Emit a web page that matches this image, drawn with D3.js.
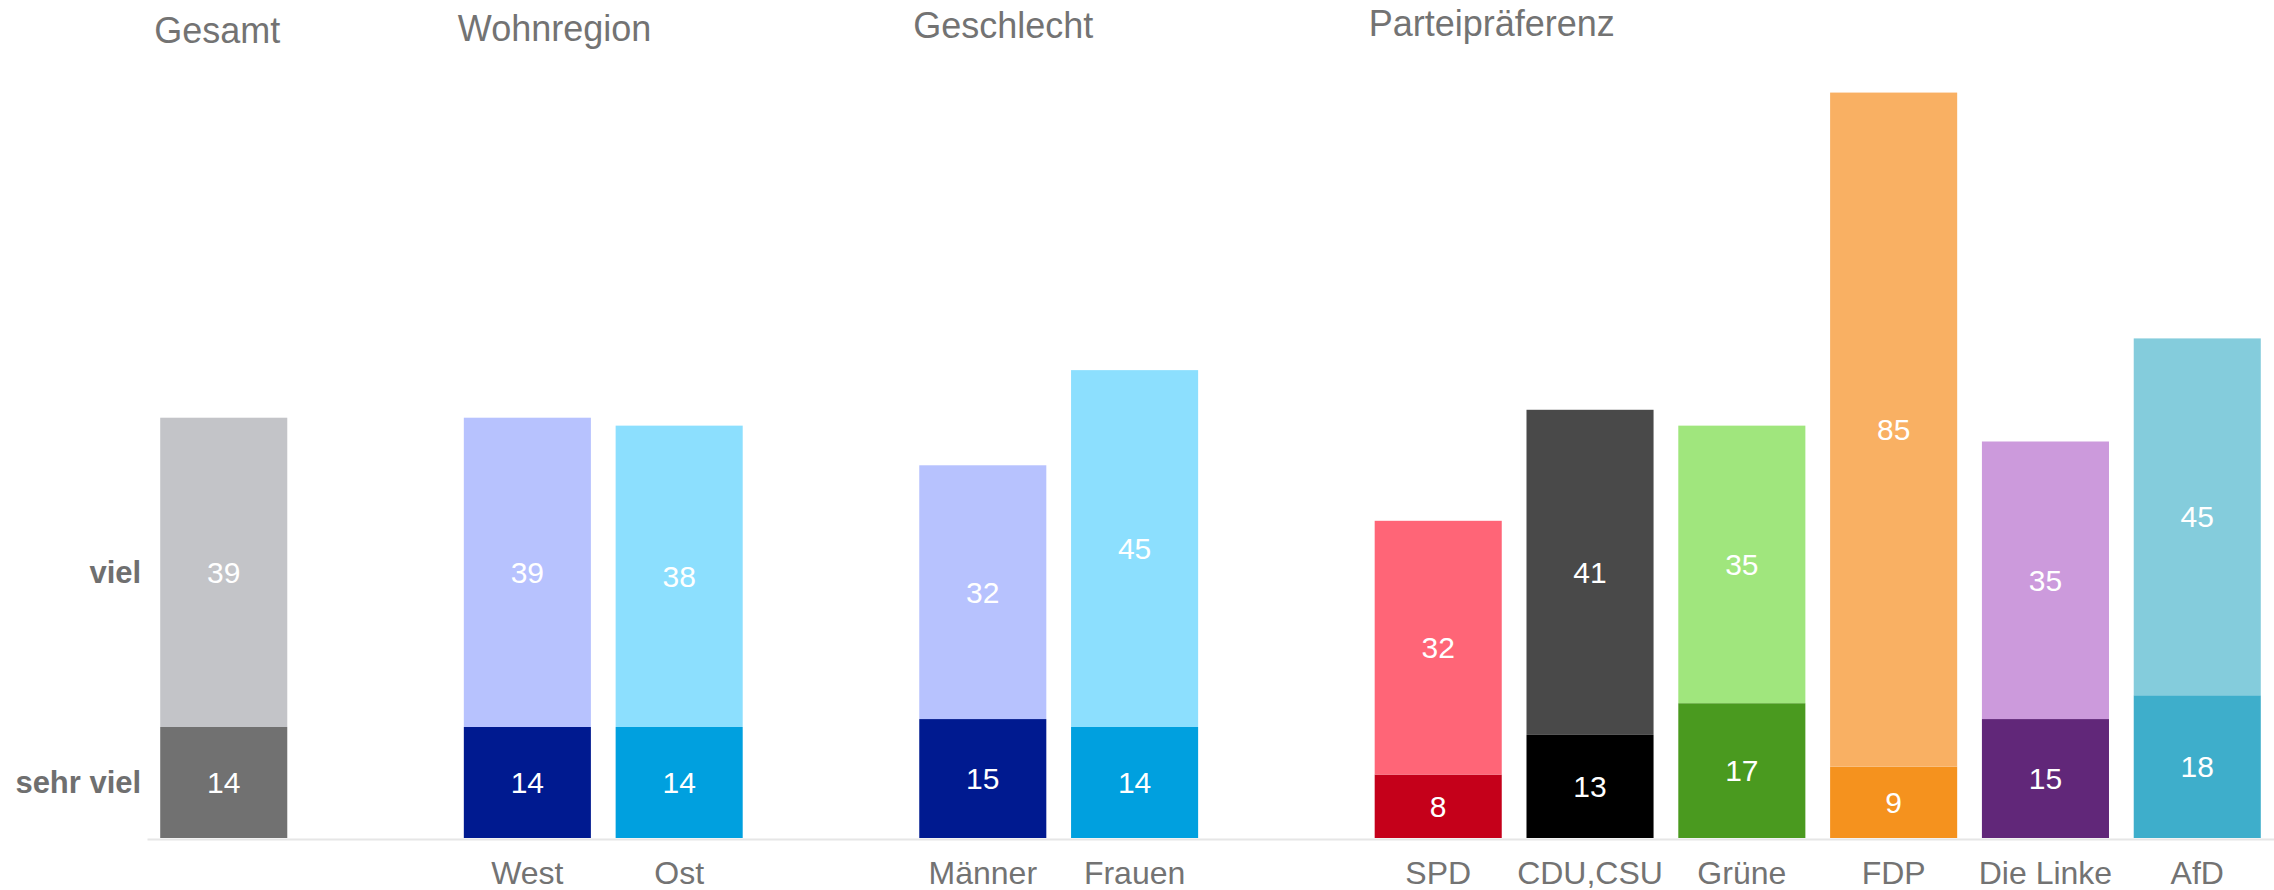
<!DOCTYPE html>
<html>
<head>
<meta charset="utf-8">
<script src="https://cdn.jsdelivr.net/npm/d3@7"></script>
<style>
  body { margin: 0; background: #ffffff; }
</style>
</head>
<body>
<div id="chart"></div>
<script>
// categories in plotting order, empty slots keep the gaps between groups
const categories = ["Gesamt", "West", "Ost", "Männer", "Frauen", "SPD", "CDU,CSU", "Grüne", "FDP", "Die Linke", "AfD"];
const slots = ["Gesamt", "_gap1", "West", "Ost", "_gap2", "Männer", "Frauen", "_gap3", "SPD", "CDU,CSU", "Grüne", "FDP", "Die Linke", "AfD"];

// series values (percent)
const sehrViel = [14, 14, 14, 15, 14, 8, 13, 17, 9, 15, 18];
const viel = [39, 39, 38, 32, 45, 32, 41, 35, 85, 35, 45];
const seriesLabels = ["sehr viel", "viel"];

// group titles and the category each one starts at
const groupTitles = ["Gesamt", "Wohnregion", "Geschlecht", "Parteipräferenz"];
const groupStarts = ["Gesamt", "West", "Männer", "SPD"];

// colours per category
const darkColors = ["#717171", "#001a90", "#00a0df", "#001a90", "#00a0df", "#c5001a", "#000000", "#4a9a1f", "#f5921e", "#612779", "#3eaecb"];
const lightColors = ["#c3c4c8", "#b7c2fe", "#8cdffe", "#b7c2fe", "#8cdffe", "#ff6577", "#494949", "#a0e67d", "#f9b063", "#cc9adc", "#84ccdc"];

const width = 2274;
const height = 890;
const font = "'Liberation Sans', Arial, sans-serif";

const svg = d3.select("#chart").append("svg")
  .attr("width", width)
  .attr("height", height)
  .style("font-family", font);

const x = d3.scaleBand()
  .domain(slots)
  .range([147, width])
  .paddingInner(0.163)
  .paddingOuter(0.087);

const y = d3.scaleLinear()
  .domain([0, 100])
  .range([838, 45]);

// stack the two series
const rows = categories.map((c, i) => ({
  cat: c,
  sehrViel: sehrViel[i],
  viel: viel[i],
  dark: darkColors[i],
  light: lightColors[i]
}));
const stacked = d3.stack().keys(["sehrViel", "viel"])(rows);

// bars
const layers = svg.append("g")
  .selectAll("g")
  .data(stacked)
  .join("g");

layers.selectAll("rect")
  .data(d => d.map(s => ({ s, key: d.key })))
  .join("rect")
    .attr("x", d => x(d.s.data.cat))
    .attr("y", d => y(d.s[1]))
    .attr("width", x.bandwidth())
    .attr("height", d => y(d.s[0]) - y(d.s[1]))
    .attr("fill", d => d.key === "sehrViel" ? d.s.data.dark : d.s.data.light);

// value labels
layers.selectAll("text")
  .data(d => d.map(s => ({ s, key: d.key })))
  .join("text")
    .attr("x", d => x(d.s.data.cat) + x.bandwidth() / 2)
    .attr("y", d => (y(d.s[0]) + y(d.s[1])) / 2)
    .attr("text-anchor", "middle")
    .attr("dominant-baseline", "central")
    .style("font-size", "30px")
    .style("fill", "#ffffff")
    .text(d => d.s.data[d.key]);

// x axis (no label under the overall bar)
const xAxis = svg.append("g")
  .attr("transform", `translate(0, ${y(0) + 1})`)
  .call(d3.axisBottom(x)
    .tickSize(0)
    .tickSizeOuter(0)
    .tickFormat(d => (d.startsWith("_") || d === "Gesamt") ? "" : d));

xAxis.select(".domain")
  .attr("stroke", "#e6e6e6")
  .attr("stroke-width", 2);

xAxis.selectAll(".tick text")
  .attr("y", 45)
  .attr("dy", 0)
  .style("font-family", font)
  .style("font-size", "32px")
  .style("fill", "#737373");

// series labels next to the first bar
const first = stacked.map(layer => layer[0]);
svg.append("g")
  .selectAll("text")
  .data(first)
  .join("text")
    .attr("x", x("Gesamt") - 19)
    .attr("y", d => (y(d[0]) + y(d[1])) / 2)
    .attr("text-anchor", "end")
    .attr("dominant-baseline", "central")
    .style("font-size", "31px")
    .style("font-weight", "700")
    .style("fill", "#6f6f6f")
    .text((d, i) => seriesLabels[i]);

// group titles
svg.append("g")
  .selectAll("text")
  .data(groupTitles)
  .join("text")
    .attr("x", (d, i) => x(groupStarts[i]) - 6)
    .attr("y", (d, i) => 43 - i * 2.5)
    .style("font-size", "36px")
    .style("fill", "#737373")
    .text(d => d);
</script>
</body>
</html>
